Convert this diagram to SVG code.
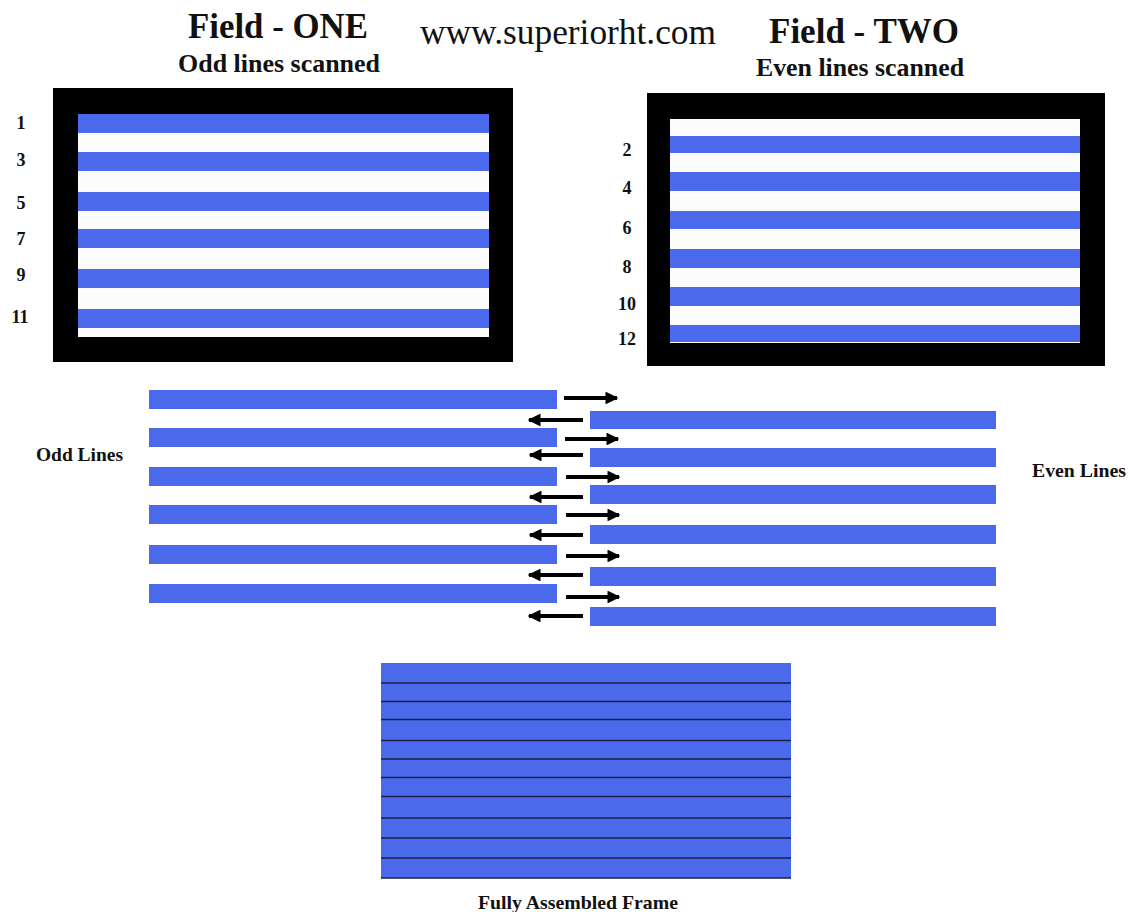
<svg xmlns="http://www.w3.org/2000/svg" width="1130" height="912" viewBox="0 0 1130 912">
<defs>
<style>
.t{font-family:"Liberation Serif","Times New Roman",serif;font-weight:bold;fill:#111}
.url{font-family:"Liberation Serif","Times New Roman",serif;fill:#111}
.b{fill:#4a6aeb}
.num{font-family:"Liberation Serif","Times New Roman",serif;font-weight:bold;font-size:18px;fill:#111;text-anchor:middle}
.ln{stroke:#1c1f4a;stroke-width:1.6}
.arr{stroke:#000;stroke-width:4;fill:none}
</style>
<marker id="ah" viewBox="0 0 10 10" refX="9" refY="5" markerWidth="3.2" markerHeight="3.2" orient="auto" markerUnits="strokeWidth">
<path d="M0,0 L10,5 L0,10 z" fill="#000"/>
</marker>
</defs>
<rect width="1130" height="912" fill="#fff"/>

<g id="titles">
<text class="t" x="188" y="38" font-size="35" textLength="180" lengthAdjust="spacingAndGlyphs">Field - ONE</text>
<text class="t" x="178" y="72" font-size="25" textLength="202" lengthAdjust="spacingAndGlyphs">Odd lines scanned</text>
<text class="url" x="420" y="44" font-size="35" textLength="296" lengthAdjust="spacingAndGlyphs">www.superiorht.com</text>
<text class="t" x="769" y="43" font-size="35" textLength="190" lengthAdjust="spacingAndGlyphs">Field - TWO</text>
<text class="t" x="756" y="76" font-size="26" textLength="208" lengthAdjust="spacingAndGlyphs">Even lines scanned</text>
</g>

<g id="field-one">
<rect x="53" y="88" width="460" height="274" fill="#000"/>
<rect x="78" y="114" width="411" height="223" fill="#fbfcfb"/>
<rect class="b" x="78" y="114" width="411" height="19"/>
<rect class="b" x="78" y="152" width="411" height="19"/>
<rect class="b" x="78" y="192" width="411" height="19"/>
<rect class="b" x="78" y="229" width="411" height="19"/>
<rect class="b" x="78" y="269" width="411" height="19"/>
<rect class="b" x="78" y="309" width="411" height="19"/>
<text class="num" x="21" y="129">1</text>
<text class="num" x="21" y="166">3</text>
<text class="num" x="21" y="209">5</text>
<text class="num" x="21" y="245">7</text>
<text class="num" x="21" y="281">9</text>
<text class="num" x="20" y="323">11</text>
</g>

<g id="field-two">
<rect x="647" y="93" width="458" height="273" fill="#000"/>
<rect x="670" y="119" width="410" height="224" fill="#fbfcfb"/>
<rect class="b" x="670" y="136" width="410" height="17"/>
<rect class="b" x="670" y="172" width="410" height="19"/>
<rect class="b" x="670" y="211" width="410" height="18"/>
<rect class="b" x="670" y="249" width="410" height="19"/>
<rect class="b" x="670" y="287" width="410" height="19"/>
<rect class="b" x="670" y="325" width="410" height="17"/>
<text class="num" x="627" y="156">2</text>
<text class="num" x="627" y="194">4</text>
<text class="num" x="627" y="234">6</text>
<text class="num" x="627" y="273">8</text>
<text class="num" x="627" y="310">10</text>
<text class="num" x="627" y="345">12</text>
</g>

<g id="odd-lines">
<rect class="b" x="149" y="390" width="408" height="19"/>
<rect class="b" x="149" y="428" width="408" height="19"/>
<rect class="b" x="149" y="467" width="408" height="19"/>
<rect class="b" x="149" y="505" width="408" height="19"/>
<rect class="b" x="149" y="545" width="408" height="19"/>
<rect class="b" x="149" y="584" width="408" height="19"/>
<text class="t" x="36" y="461" font-size="19" textLength="87" lengthAdjust="spacingAndGlyphs">Odd Lines</text>
</g>

<g id="even-lines">
<rect class="b" x="590" y="411" width="406" height="18"/>
<rect class="b" x="590" y="448" width="406" height="19"/>
<rect class="b" x="590" y="485" width="406" height="19"/>
<rect class="b" x="590" y="525" width="406" height="19"/>
<rect class="b" x="590" y="567" width="406" height="19"/>
<rect class="b" x="590" y="607" width="406" height="19"/>
<text class="t" x="1032" y="477" font-size="19" textLength="94" lengthAdjust="spacingAndGlyphs">Even Lines</text>
</g>

<g id="connectors">
<line class="arr" x1="564" y1="398" x2="617" y2="398" marker-end="url(#ah)"/>
<line class="arr" x1="565" y1="439" x2="618" y2="439" marker-end="url(#ah)"/>
<line class="arr" x1="566" y1="477" x2="619" y2="477" marker-end="url(#ah)"/>
<line class="arr" x1="566" y1="515" x2="619" y2="515" marker-end="url(#ah)"/>
<line class="arr" x1="566" y1="556" x2="619" y2="556" marker-end="url(#ah)"/>
<line class="arr" x1="566" y1="597" x2="619" y2="597" marker-end="url(#ah)"/>
<line class="arr" x1="583" y1="420" x2="529" y2="420" marker-end="url(#ah)"/>
<line class="arr" x1="583" y1="455" x2="530" y2="455" marker-end="url(#ah)"/>
<line class="arr" x1="583" y1="497" x2="530" y2="497" marker-end="url(#ah)"/>
<line class="arr" x1="583" y1="535" x2="530" y2="535" marker-end="url(#ah)"/>
<line class="arr" x1="583" y1="575" x2="529" y2="575" marker-end="url(#ah)"/>
<line class="arr" x1="583" y1="616" x2="529" y2="616" marker-end="url(#ah)"/>
</g>

<g id="assembled-frame">
<rect class="b" x="381" y="663" width="410" height="215"/>
<line class="ln" x1="381" y1="683" x2="791" y2="683"/>
<line class="ln" x1="381" y1="701.5" x2="791" y2="701.5"/>
<line class="ln" x1="381" y1="719.5" x2="791" y2="719.5"/>
<line class="ln" x1="381" y1="740.5" x2="791" y2="740.5"/>
<line class="ln" x1="381" y1="759" x2="791" y2="759"/>
<line class="ln" x1="381" y1="777.5" x2="791" y2="777.5"/>
<line class="ln" x1="381" y1="796.5" x2="791" y2="796.5"/>
<line class="ln" x1="381" y1="818" x2="791" y2="818"/>
<line class="ln" x1="381" y1="838" x2="791" y2="838"/>
<line class="ln" x1="381" y1="858" x2="791" y2="858"/>
<line class="ln" x1="381" y1="878" x2="791" y2="878"/>
<text class="t" x="478" y="909" font-size="19.5" textLength="200" lengthAdjust="spacingAndGlyphs">Fully Assembled Frame</text>
</g>
</svg>
